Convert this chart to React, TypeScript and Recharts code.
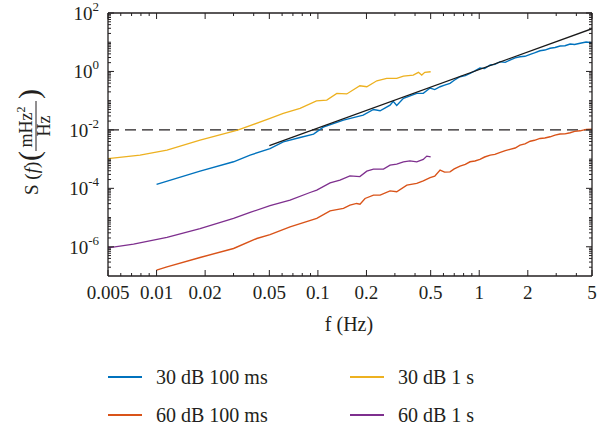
import React from 'react';
import { LineChart, Line, XAxis, YAxis, ReferenceLine } from 'recharts';

const FONT = '"Liberation Serif", "DejaVu Serif", serif';
const INK = '#231f20';

const W = 606;
const H = 425;

// frequency (Hz) / spectral density (mHz^2/Hz)
const blue30dB100ms = [
  { f: 0.01, s: 1.36e-4 }, { f: 0.0186, s: 3.9e-4 }, { f: 0.03, s: 8.1e-4 }, { f: 0.038, s: 1.37e-3 },
  { f: 0.0505, s: 2.3e-3 }, { f: 0.061, s: 3.9e-3 }, { f: 0.0775, s: 5.5e-3 }, { f: 0.094, s: 7.2e-3 },
  { f: 0.108, s: 0.0125 }, { f: 0.144, s: 0.0217 }, { f: 0.191, s: 0.032 }, { f: 0.221, s: 0.05 },
  { f: 0.243, s: 0.045 }, { f: 0.28, s: 0.07 }, { f: 0.293, s: 0.095 }, { f: 0.308, s: 0.068 },
  { f: 0.339, s: 0.12 }, { f: 0.41, s: 0.178 }, { f: 0.45, s: 0.178 }, { f: 0.496, s: 0.27 },
  { f: 0.53, s: 0.24 }, { f: 0.572, s: 0.3 }, { f: 0.61, s: 0.34 }, { f: 0.659, s: 0.39 },
  { f: 0.7, s: 0.5 }, { f: 0.76, s: 0.66 }, { f: 0.82, s: 0.72 }, { f: 0.877, s: 0.86 },
  { f: 0.94, s: 1.05 }, { f: 1.01, s: 1.31 }, { f: 1.08, s: 1.25 }, { f: 1.17, s: 1.66 },
  { f: 1.25, s: 1.75 }, { f: 1.35, s: 2.15 }, { f: 1.45, s: 2.05 }, { f: 1.55, s: 2.46 },
  { f: 1.67, s: 2.9 }, { f: 1.79, s: 3.19 }, { f: 1.92, s: 3.3 }, { f: 2.07, s: 3.85 },
  { f: 2.2, s: 4.3 }, { f: 2.38, s: 5.1 }, { f: 2.55, s: 5.4 }, { f: 2.75, s: 6.2 },
  { f: 2.95, s: 6.6 }, { f: 3.17, s: 7.4 }, { f: 3.4, s: 7.6 }, { f: 3.66, s: 8.7 },
  { f: 3.9, s: 8.4 }, { f: 4.22, s: 9.2 }, { f: 4.6, s: 10.2 }, { f: 5, s: 9.6 },
];

const orange60dB100ms = [
  { f: 0.01, s: 1.58e-7 }, { f: 0.0116, s: 2.05e-7 }, { f: 0.0186, s: 4.3e-7 }, { f: 0.03, s: 8.75e-7 },
  { f: 0.0418, s: 1.92e-6 }, { f: 0.0505, s: 2.6e-6 }, { f: 0.0672, s: 4.8e-6 }, { f: 0.0984, s: 9.3e-6 },
  { f: 0.119, s: 1.69e-5 }, { f: 0.144, s: 2.05e-5 }, { f: 0.158, s: 2.66e-5 }, { f: 0.174, s: 3.04e-5 },
  { f: 0.1824, s: 2.88e-5 }, { f: 0.196, s: 4.5e-5 }, { f: 0.221, s: 5.85e-5 }, { f: 0.243, s: 5.85e-5 },
  { f: 0.28, s: 8.2e-5 }, { f: 0.308, s: 7.6e-5 }, { f: 0.356, s: 1.29e-4 }, { f: 0.41, s: 1.47e-4 },
  { f: 0.45, s: 1.81e-4 }, { f: 0.496, s: 2.32e-4 }, { f: 0.53, s: 2.6e-4 }, { f: 0.572, s: 4.2e-4 },
  { f: 0.61, s: 3.6e-4 }, { f: 0.659, s: 3.67e-4 }, { f: 0.7, s: 4.6e-4 }, { f: 0.76, s: 5.75e-4 },
  { f: 0.82, s: 6.6e-4 }, { f: 0.877, s: 8.1e-4 }, { f: 0.94, s: 8.6e-4 }, { f: 1.01, s: 9.8e-4 },
  { f: 1.08, s: 1.18e-3 }, { f: 1.17, s: 1.37e-3 }, { f: 1.25, s: 1.45e-3 }, { f: 1.35, s: 1.69e-3 },
  { f: 1.45, s: 1.95e-3 }, { f: 1.55, s: 2.15e-3 }, { f: 1.67, s: 2.4e-3 }, { f: 1.79, s: 3.0e-3 },
  { f: 1.92, s: 3.3e-3 }, { f: 2.07, s: 4.1e-3 }, { f: 2.2, s: 4.4e-3 }, { f: 2.38, s: 5.1e-3 },
  { f: 2.55, s: 5.3e-3 }, { f: 2.75, s: 5.8e-3 }, { f: 2.95, s: 6.6e-3 }, { f: 3.17, s: 7.2e-3 },
  { f: 3.4, s: 7.3e-3 }, { f: 3.66, s: 8.0e-3 }, { f: 3.9, s: 8.9e-3 }, { f: 4.22, s: 9.3e-3 },
  { f: 4.6, s: 0.0104 }, { f: 5, s: 0.0106 },
];

const yellow30dB1s = [
  { f: 0.005, s: 1.04e-3 }, { f: 0.0079, s: 1.37e-3 }, { f: 0.0116, s: 2.03e-3 }, { f: 0.0186, s: 4.5e-3 },
  { f: 0.0318, s: 9.8e-3 }, { f: 0.0505, s: 0.0248 }, { f: 0.061, s: 0.0367 }, { f: 0.0775, s: 0.0545 },
  { f: 0.098, s: 0.099 }, { f: 0.1135, s: 0.105 }, { f: 0.131, s: 0.178 }, { f: 0.151, s: 0.17 },
  { f: 0.182, s: 0.324 }, { f: 0.201, s: 0.299 }, { f: 0.232, s: 0.48 }, { f: 0.267, s: 0.58 },
  { f: 0.308, s: 0.58 }, { f: 0.339, s: 0.695 }, { f: 0.39, s: 0.753 }, { f: 0.42, s: 0.93 },
  { f: 0.44, s: 0.753 }, { f: 0.46, s: 0.93 }, { f: 0.5, s: 0.977 },
];

const purple60dB1s = [
  { f: 0.005, s: 9.2e-7 }, { f: 0.0072, s: 1.23e-6 }, { f: 0.0116, s: 2.08e-6 }, { f: 0.0186, s: 4.2e-6 },
  { f: 0.03, s: 9.3e-6 }, { f: 0.038, s: 1.5e-5 }, { f: 0.0505, s: 2.56e-5 }, { f: 0.0672, s: 3.94e-5 },
  { f: 0.0894, s: 7.2e-5 }, { f: 0.0984, s: 8.7e-5 }, { f: 0.119, s: 1.54e-4 }, { f: 0.137, s: 1.91e-4 },
  { f: 0.158, s: 2.68e-4 }, { f: 0.182, s: 2.52e-4 }, { f: 0.201, s: 3.88e-4 }, { f: 0.221, s: 4.55e-4 },
  { f: 0.255, s: 4.55e-4 }, { f: 0.28, s: 6.2e-4 }, { f: 0.308, s: 6.75e-4 }, { f: 0.339, s: 8.1e-4 },
  { f: 0.372, s: 8.75e-4 }, { f: 0.41, s: 8.1e-4 }, { f: 0.45, s: 9.8e-4 }, { f: 0.473, s: 1.27e-3 },
  { f: 0.5, s: 1.2e-3 },
];

// f^2 guide line and the 1e-2 threshold
const slopeLine = [{ f: 0.05, s: 0.0029 }, { f: 5, s: 29 }];
const threshold = 0.01;

const xMajorTicks = [0.005, 0.01, 0.02, 0.05, 0.1, 0.2, 0.5, 1, 2, 5];
const xMinorTicks = [0.006, 0.007, 0.008, 0.009, 0.03, 0.04, 0.06, 0.07, 0.08, 0.09, 0.3, 0.4, 0.6, 0.7, 0.8, 0.9, 3, 4];
const yMajorTicks = [1e-6, 1e-4, 1e-2, 1, 100];
const yDecades = [1e-7, 1e-6, 1e-5, 1e-4, 1e-3, 1e-2, 1e-1, 1, 10];
const yMinorSteps = [2, 3, 4, 5, 6, 7, 8, 9];

const xTicks = [...xMajorTicks, ...xMinorTicks].sort((a, b) => a - b);
const yTicks = [
  ...yMajorTicks,
  1e-5, 1e-3, 0.1, 10,
  ...yDecades.flatMap((d) => yMinorSteps.map((m) => m * d)),
].sort((a, b) => a - b);

const legendItems = [
  { name: '30 dB 100 ms', color: '#0072BD' },
  { name: '30 dB 1 s', color: '#EDB120' },
  { name: '60 dB 100 ms', color: '#D95319' },
  { name: '60 dB 1 s', color: '#7E2F8E' },
];

const isIn = (list: number[], v: number) => list.some((t) => Math.abs(t - v) / t < 1e-6);

const BottomTick = ({ x, y, payload }: any) => {
  const major = isIn(xMajorTicks, payload.value);
  return (
    <g>
      <line x1={x} x2={x} y1={y} y2={y - (major ? 6 : 3)} stroke={INK} />
      {major && (
        <text x={x} y={y + 23} textAnchor="middle" fontSize={19} fontFamily={FONT} fill={INK}>
          {String(payload.value)}
        </text>
      )}
    </g>
  );
};

const TopTick = ({ x, y, payload }: any) => {
  const major = isIn(xMajorTicks, payload.value);
  return <line x1={x} x2={x} y1={y} y2={y + (major ? 6 : 3)} stroke={INK} />;
};

const LeftTick = ({ x, y, payload }: any) => {
  const major = isIn(yMajorTicks, payload.value);
  const exp = Math.round(Math.log10(payload.value));
  return (
    <g>
      <line x1={x} x2={x + (major ? 6 : 3)} y1={y} y2={y} stroke={INK} />
      {major && (
        <text x={x - 9} y={y + 7} textAnchor="end" fontSize={19} fontFamily={FONT} fill={INK}>
          10<tspan dy={-9} fontSize={13}>{String(exp)}</tspan>
        </text>
      )}
    </g>
  );
};

const RightTick = ({ x, y, payload }: any) => {
  const major = isIn(yMajorTicks, payload.value);
  return <line x1={x} x2={x - (major ? 6 : 3)} y1={y} y2={y} stroke={INK} />;
};

const XTitle = () => (
  <text x={349} y={331} textAnchor="middle" fontSize={20} fontFamily={FONT} fill={INK}>
    f (Hz)
  </text>
);

const YTitle = () => (
  <g transform="translate(38,195) rotate(-90)" fill={INK} fontFamily={FONT}>
    <text x={0} y={0} fontSize={19}>
      S (<tspan fontStyle="italic">f</tspan>)
    </text>
    <text x={34} y={1} fontSize={30}>(</text>
    <text x={68} y={-6} fontSize={18} textAnchor="middle">
      mHz<tspan dy={-7} fontSize={12}>2</tspan>
    </text>
    <line x1={44} x2={94} y1={-2} y2={-2} stroke={INK} strokeWidth={1} />
    <text x={69} y={12} fontSize={18} textAnchor="middle">Hz</text>
    <text x={96} y={1} fontSize={30}>)</text>
  </g>
);

const axisLine = { stroke: INK, strokeWidth: 1.3 };

export default function App() {
  return (
    <div style={{ position: 'absolute', left: 0, top: 0, width: W, height: H, background: '#fff', overflow: 'hidden' }}>
      <LineChart width={W} height={H} margin={{ top: 0, right: 0, bottom: 0, left: 0 }}>
        <XAxis
          dataKey="f"
          type="number"
          scale="log"
          domain={[0.005, 5]}
          allowDataOverflow
          ticks={xTicks}
          interval={0}
          tickSize={0}
          tickMargin={0}
          tickLine={false}
          axisLine={axisLine}
          height={149}
          tick={<BottomTick />}
          label={<XTitle />}
        />
        <XAxis
          xAxisId="top"
          orientation="top"
          dataKey="f"
          type="number"
          scale="log"
          domain={[0.005, 5]}
          allowDataOverflow
          ticks={xTicks}
          interval={0}
          tickSize={0}
          tickMargin={0}
          tickLine={false}
          axisLine={axisLine}
          height={13}
          tick={<TopTick />}
        />
        <YAxis
          type="number"
          scale="log"
          domain={[1e-7, 100]}
          allowDataOverflow
          ticks={yTicks}
          interval={0}
          tickSize={0}
          tickMargin={0}
          tickLine={false}
          axisLine={axisLine}
          width={108}
          tick={<LeftTick />}
          label={<YTitle />}
        />
        <YAxis
          yAxisId="right"
          orientation="right"
          type="number"
          scale="log"
          domain={[1e-7, 100]}
          allowDataOverflow
          ticks={yTicks}
          interval={0}
          tickSize={0}
          tickMargin={0}
          tickLine={false}
          axisLine={axisLine}
          width={14}
          tick={<RightTick />}
        />
        <ReferenceLine y={threshold} stroke={INK} strokeWidth={1.3} strokeDasharray="11 6" />
        <Line data={yellow30dB1s} dataKey="s" stroke="#EDB120" strokeWidth={1.3} dot={false} isAnimationActive={false} />
        <Line data={purple60dB1s} dataKey="s" stroke="#7E2F8E" strokeWidth={1.3} dot={false} isAnimationActive={false} />
        <Line data={orange60dB100ms} dataKey="s" stroke="#D95319" strokeWidth={1.4} dot={false} isAnimationActive={false} />
        <Line data={blue30dB100ms} dataKey="s" stroke="#0072BD" strokeWidth={1.4} dot={false} isAnimationActive={false} />
        <Line data={slopeLine} dataKey="s" stroke="#1a1a1a" strokeWidth={1.3} dot={false} isAnimationActive={false} />
      </LineChart>
      {legendItems.map((item, i) => (
        <div
          key={item.name}
          style={{
            position: 'absolute',
            left: i % 2 === 0 ? 108 : 350,
            top: i < 2 ? 368 : 406,
            height: 18,
            lineHeight: '18px',
            display: 'flex',
            alignItems: 'center',
            fontFamily: FONT,
            fontSize: 20,
            color: INK,
            whiteSpace: 'nowrap',
          }}
        >
          <span style={{ display: 'inline-block', width: 34, height: 2, background: item.color, marginRight: 14 }} />
          {item.name}
        </div>
      ))}
    </div>
  );
}
